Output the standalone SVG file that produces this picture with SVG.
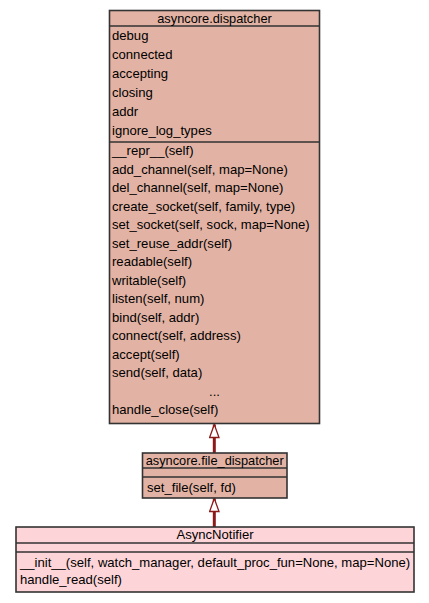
<svg xmlns="http://www.w3.org/2000/svg" width="429" height="603" viewBox="0 0 429 603">
<style>
.box{fill:#e2b3a4;stroke:#333;stroke-width:1.6}
.box2{fill:#fdd5d8;stroke:#333;stroke-width:1.6}
.sep{stroke:#333;stroke-width:1.6;fill:none}
text{font-family:"Liberation Sans",Arial,sans-serif;font-size:13.1px;fill:#000}
.c{text-anchor:middle}
.t{font-size:12.8px}
.conn{stroke:#8b1a1a;stroke-width:3;fill:none;marker-end:url(#tri)}
</style>
<defs>
<marker id="tri" viewBox="0 0 15 11" refX="14" refY="5.5" markerWidth="15" markerHeight="11" markerUnits="userSpaceOnUse" orient="auto">
<path d="M1,0.8 L14,5.5 L1,10.2 z" fill="#fff" stroke="#8b1a1a" stroke-width="1.3"/>
</marker>
</defs>
<rect width="429" height="603" fill="#fff"/>
<g id="connectors">
<path class="conn" d="M214.3,453 L214.3,424.5"/>
<path class="conn" d="M214.3,527 L214.3,498.5"/>
</g>
<g id="asyncore.dispatcher">
<rect class="box" x="109.5" y="10.5" width="210" height="413"/>
<path class="sep" d="M109.5,26 H319.5 M109.5,142 H319.5"/>
<text class="c t" x="214.5" y="23">asyncore.dispatcher</text>
<text x="112" y="40">debug</text>
<text x="112" y="59">connected</text>
<text x="112" y="78">accepting</text>
<text x="112" y="97">closing</text>
<text x="112" y="116">addr</text>
<text x="112" y="135">ignore_log_types</text>
<text x="112" y="155">__repr__(self)</text>
<text x="112" y="173.5">add_channel(self, map=None)</text>
<text x="112" y="192">del_channel(self, map=None)</text>
<text x="112" y="210.5">create_socket(self, family, type)</text>
<text x="112" y="229">set_socket(self, sock, map=None)</text>
<text x="112" y="247.5">set_reuse_addr(self)</text>
<text x="112" y="266">readable(self)</text>
<text x="112" y="284.5">writable(self)</text>
<text x="112" y="303">listen(self, num)</text>
<text x="112" y="321.5">bind(self, addr)</text>
<text x="112" y="340">connect(self, address)</text>
<text x="112" y="358.5">accept(self)</text>
<text x="112" y="377">send(self, data)</text>
<text class="c" x="214.5" y="395.5">...</text>
<text x="112" y="414">handle_close(self)</text>
</g>
<g id="asyncore.file_dispatcher">
<rect class="box" x="142.5" y="453" width="144.5" height="45"/>
<path class="sep" d="M142.5,468 H287 M142.5,477 H287"/>
<text class="c t" x="214.7" y="465">asyncore.file_dispatcher</text>
<text x="147" y="492">set_file(self, fd)</text>
</g>
<g id="AsyncNotifier">
<rect class="box2" x="16" y="527" width="398" height="65"/>
<path class="sep" d="M16,543 H414 M16,552 H414"/>
<text class="c" x="215" y="539">AsyncNotifier</text>
<text x="20" y="566.5">__init__(self, watch_manager, default_proc_fun=None, map=None)</text>
<text x="20" y="584">handle_read(self)</text>
</g>
</svg>
